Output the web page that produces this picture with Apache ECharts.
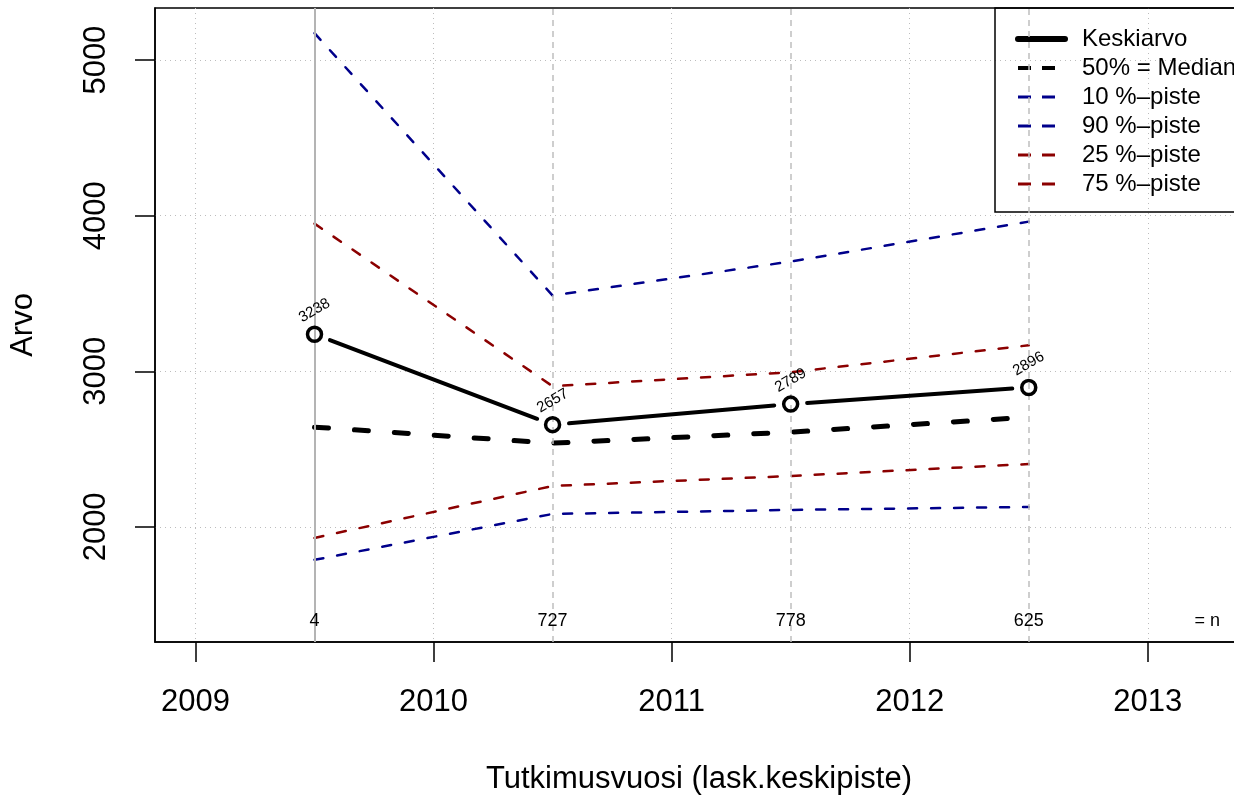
<!DOCTYPE html>
<html>
<head>
<meta charset="utf-8">
<script src="https://cdn.jsdelivr.net/npm/echarts@6/dist/echarts.min.js"></script>
<style>
  html, body { margin: 0; padding: 0; background: #fff; }
  #chart { width: 1234px; height: 797px; }
</style>
</head>
<body>
<div id="chart"></div>
<script>
// tutkimusvuodet (laskennallinen keskipiste) ja havaintomäärät
const years = [2009.5, 2010.5, 2011.5, 2012.5];
const counts = [4, 727, 778, 625];
// tunnusluvut
const mean = [3238, 2657, 2789, 2896];
const median = [2641, 2538, 2609, 2705];
const p10 = [1788, 2083, 2109, 2128];
const p90 = [5173, 3487, 3705, 3962];
const p25 = [1929, 2263, 2327, 2404];
const p75 = [3949, 2904, 2994, 3167];
// akselien jaot
const yearTicks = [2009, 2010, 2011, 2012, 2013];
const valueTicks = [2000, 3000, 4000, 5000];

const FONT = "'Liberation Sans', Arial, Helvetica, sans-serif";
const BLUE = '#00008b';
const RED = '#8b0000';

function pairs(vals) {
    return years.map((x, i) => [x, vals[i]]);
}

// keskiarvon janat pisteiden välillä (R type="b": rako pisteen ympärillä)
const meanSegments = [];
for (let i = 0; i < years.length - 1; i++) {
    meanSegments.push([years[i], mean[i], years[i + 1], mean[i + 1]]);
}

const nX = years.concat([2013.25]);
const nText = counts.map(String).concat(['= n']);

const chart = echarts.init(document.getElementById('chart'));

function quantileSeries(name, vals, color) {
    return {
        name: name,
        type: 'line',
        data: pairs(vals),
        symbol: 'none',
        z: 3,
        lineStyle: { color: color, width: 2.5, type: [9, 14], cap: 'round' },
        itemStyle: { color: color }
    };
}

const legendDash = (color, width) => ({ color: color, width: width, type: [13, 11], cap: 'butt' });

const option = {
    animation: false,
    textStyle: { fontFamily: FONT, color: '#000' },
    grid: {
        left: 155, top: 8, right: -9, bottom: 155,
        outerBoundsMode: 'none',
        containLabel: false,
        show: true, borderColor: '#000', borderWidth: 1.5
    },
    xAxis: {
        type: 'value',
        min: 2008.83,
        max: 2013.40,
        name: 'Tutkimusvuosi (lask.keskipiste)',
        nameLocation: 'middle',
        nameGap: 122,
        nameTextStyle: { fontSize: 31, color: '#000', fontFamily: FONT },
        axisLine: { show: true, onZero: false, lineStyle: { color: '#000', width: 1.5 } },
        axisTick: { show: true, length: 20, customValues: yearTicks, lineStyle: { color: '#000', width: 1.5 } },
        axisLabel: { customValues: yearTicks, fontSize: 31, color: '#000', margin: 45, fontFamily: FONT, formatter: v => String(v) },
        splitLine: { show: true, lineStyle: { color: '#bdbdbd', width: 1, type: [1, 4] } }
    },
    yAxis: {
        type: 'value',
        min: 1260,
        max: 5335,
        name: 'Arvo',
        nameLocation: 'middle',
        nameGap: 116,
        nameRotate: 90,
        nameTextStyle: { fontSize: 31, color: '#000', fontFamily: FONT },
        axisLine: { show: true, onZero: false, lineStyle: { color: '#000', width: 1.5 } },
        axisTick: { show: true, length: 20, customValues: valueTicks, lineStyle: { color: '#000', width: 1.5 } },
        axisLabel: { customValues: valueTicks, fontSize: 31, color: '#000', margin: 43, rotate: 90, fontFamily: FONT, formatter: v => String(v) },
        splitLine: { show: true, lineStyle: { color: '#bdbdbd', width: 1, type: [1, 4] } }
    },
    legend: {
        orient: 'vertical',
        left: 995,
        top: 8,
        padding: [19, 40, 16, 20],
        itemWidth: 47,
        itemHeight: 14,
        itemGap: 5,
        borderColor: '#000',
        borderWidth: 1.5,
        backgroundColor: 'transparent',
        textStyle: { fontSize: 24, lineHeight: 24, color: '#000', fontFamily: FONT, padding: [0, 0, 0, 12] },
        data: [
            { name: 'Keskiarvo', itemStyle: { opacity: 0 }, lineStyle: { color: '#000', width: 6, type: 'solid', cap: 'round', opacity: 1 } },
            { name: '50% = Median', itemStyle: { opacity: 0 }, lineStyle: legendDash('#000', 4) },
            { name: '10 %\u2013piste', itemStyle: { opacity: 0 }, lineStyle: legendDash(BLUE, 3) },
            { name: '90 %\u2013piste', itemStyle: { opacity: 0 }, lineStyle: legendDash(BLUE, 3) },
            { name: '25 %\u2013piste', itemStyle: { opacity: 0 }, lineStyle: legendDash(RED, 3) },
            { name: '75 %\u2013piste', itemStyle: { opacity: 0 }, lineStyle: legendDash(RED, 3) }
        ]
    },
    series: [
        {
            // pystyviivat tutkimusvuosien kohdalla
            name: 'ref',
            type: 'line',
            data: [],
            z: 1,
            silent: true,
            markLine: {
                silent: true,
                symbol: 'none',
                label: { show: false },
                data: years.map((x, i) => ({
                    xAxis: x,
                    lineStyle: i === 0
                        ? { color: '#b4b4b4', width: 2, type: 'solid' }
                        : { color: '#bebebe', width: 1.5, type: [6, 5] }
                }))
            }
        },
        quantileSeries('10 %\u2013piste', p10, BLUE),
        quantileSeries('90 %\u2013piste', p90, BLUE),
        quantileSeries('25 %\u2013piste', p25, RED),
        quantileSeries('75 %\u2013piste', p75, RED),
        {
            name: '50% = Median',
            type: 'line',
            data: pairs(median),
            symbol: 'none',
            z: 4,
            lineStyle: { color: '#000', width: 5, type: [14, 26], cap: 'round' },
            itemStyle: { color: '#000' }
        },
        {
            name: 'Keskiarvo',
            type: 'line',
            data: pairs(mean),
            symbol: 'circle',
            symbolSize: 14,
            showAllSymbol: true,
            z: 6,
            lineStyle: { opacity: 0 },
            itemStyle: { color: 'rgba(0,0,0,0)', borderColor: '#000', borderWidth: 3.5 },
            label: {
                show: true,
                position: 'top',
                distance: 15,
                rotate: 30,
                align: 'center',
                verticalAlign: 'middle',
                fontSize: 15,
                color: '#000',
                fontFamily: FONT,
                formatter: p => String(p.value[1])
            }
        },
        {
            name: 'Keskiarvo-jana',
            type: 'custom',
            data: meanSegments,
            z: 5,
            silent: true,
            encode: { x: [0, 2], y: [1, 3] },
            renderItem: function (params, api) {
                const a = api.coord([api.value(0), api.value(1)]);
                const b = api.coord([api.value(2), api.value(3)]);
                const dx = b[0] - a[0], dy = b[1] - a[1];
                const len = Math.sqrt(dx * dx + dy * dy);
                const ux = dx / len, uy = dy / len, gap = 16.5;
                return {
                    type: 'line',
                    shape: { x1: a[0] + ux * gap, y1: a[1] + uy * gap, x2: b[0] - ux * gap, y2: b[1] - uy * gap },
                    style: { stroke: '#000', lineWidth: 4, lineCap: 'round' }
                };
            }
        },
        {
            // havaintomäärät kuvan alareunassa
            name: 'n',
            type: 'custom',
            data: nX.map(x => [x]),
            dimensions: ['x'],
            encode: { x: 0 },
            z: 7,
            silent: true,
            renderItem: function (params, api) {
                const x = api.coord([api.value(0), 2000])[0];
                const y = params.coordSys.y + params.coordSys.height - 21;
                return {
                    type: 'text',
                    style: {
                        text: nText[params.dataIndex],
                        x: x, y: y,
                        align: 'center',
                        verticalAlign: 'middle',
                        fontSize: 18,
                        fontFamily: FONT,
                        fill: '#000'
                    }
                };
            }
        }
    ]
};

chart.setOption(option);
</script>
</body>
</html>
